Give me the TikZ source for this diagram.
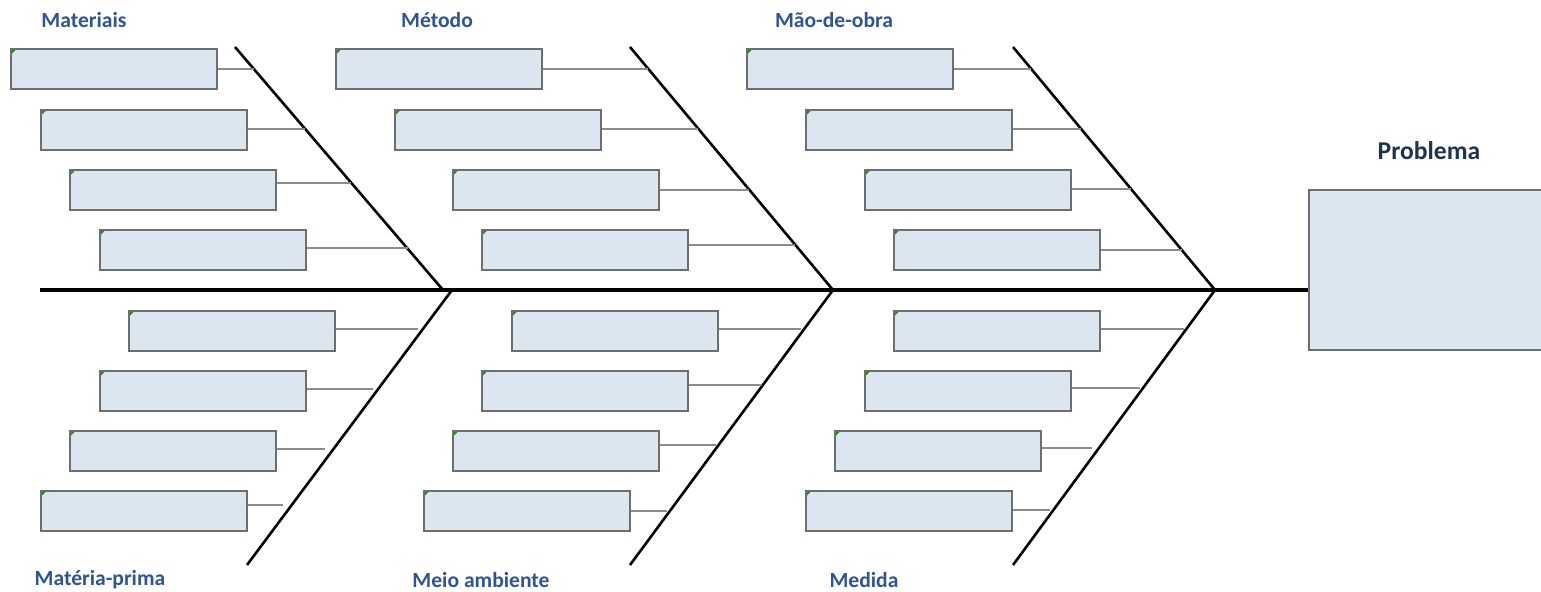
\documentclass[tikz,border=0pt]{standalone}
\usepackage{fontspec}
\setmainfont{Carlito}
\usetikzlibrary{calc}
\definecolor{boxfill}{HTML}{DCE6F1}
\definecolor{boxline}{HTML}{6E6E6E}
\definecolor{connline}{HTML}{8C8C8C}
\definecolor{catblue}{HTML}{2F5597}
\definecolor{probnavy}{HTML}{1F3350}
\definecolor{tick}{HTML}{2E8B1E}
\tikzset{
  cbox/.style={draw=boxline, line width=0.8pt, fill=boxfill, anchor=north west,
    minimum width=103pt, minimum height=20pt, inner sep=0pt,
    path picture={\fill[tick] (path picture bounding box.north west) -- ++(3pt,0) -- ++(-3pt,-3pt) -- cycle;}},
  conn/.style={draw=connline, line width=0.8pt},
  bone/.style={draw=black, line width=1.3pt},
  spine/.style={draw=black, line width=1.8pt},
  cat/.style={font=\bfseries\fontsize{10.8pt}{12pt}\selectfont, text=catblue},
  prob/.style={font=\bfseries\fontsize{12.8pt}{14pt}\selectfont, text=probnavy}
}
\begin{document}
\begin{tikzpicture}[x=0.5pt,y=-0.5pt]
\useasboundingbox (0,0) rectangle (1541,592);
\clip (0,0) rectangle (1541,592);
% problem box
\node[draw=boxline, line width=0.8pt, fill=boxfill, anchor=north west, minimum width=125pt, minimum height=80pt, inner sep=0pt] (prob) at (1308,189) {};
\node[prob] (probt) at (1429,151) {Problema};
% spine
\coordinate (tail) at (40,290);
\draw[spine] (tail) -- (prob.west |- tail);
% diagonals
\coordinate (dA1) at (235,47);  \coordinate (dA2) at (443,290);
\coordinate (dB1) at (630,47);  \coordinate (dB2) at (833,290);
\coordinate (dC1) at (1013,47); \coordinate (dC2) at (1215,290);
\coordinate (lA1) at (452,290); \coordinate (lA2) at (247,565);
\coordinate (lB1) at (833,290); \coordinate (lB2) at (630,565);
\coordinate (lC1) at (1215,290); \coordinate (lC2) at (1013,565);
\draw[bone] (dA1) -- (dA2);
\draw[bone] (dB1) -- (dB2);
\draw[bone] (dC1) -- (dC2);
\draw[bone] (lA1) -- (lA2);
\draw[bone] (lB1) -- (lB2);
\draw[bone] (lC1) -- (lC2);
% category labels
\node[cat] (tMat) at (84,20) {Materiais};
\node[cat] (tMet) at (437,20) {Método};
\node[cat] (tMao) at (834,20) {Mão-de-obra};
\node[cat] (tPri) at (100,580) {Matéria-prima};
\node[cat] (tAmb) at (481,580) {Meio ambiente};
\node[cat] (tMed) at (864,580) {Medida};
% upper boxes
\node[cbox] (mA1) at (10,48) {};
\node[cbox] (mA2) at (40,109) {};
\node[cbox] (mA3) at (69,169) {};
\node[cbox] (mA4) at (99,229) {};
\node[cbox] (mB1) at (335,48) {};
\node[cbox] (mB2) at (394,109) {};
\node[cbox] (mB3) at (452,169) {};
\node[cbox] (mB4) at (481,229) {};
\node[cbox] (mC1) at (746,48) {};
\node[cbox] (mC2) at (805,109) {};
\node[cbox] (mC3) at (864,169) {};
\node[cbox] (mC4) at (893,229) {};
% lower boxes
\node[cbox] (pA1) at (128,310) {};
\node[cbox] (pA2) at (99,370) {};
\node[cbox] (pA3) at (69,430) {};
\node[cbox] (pA4) at (40,490) {};
\node[cbox] (pB1) at (511,310) {};
\node[cbox] (pB2) at (481,370) {};
\node[cbox] (pB3) at (452,430) {};
\node[cbox] (pB4) at (423,490) {};
\node[cbox] (pC1) at (893,310) {};
\node[cbox] (pC2) at (864,370) {};
\node[cbox] (pC3) at (834,430) {};
\node[cbox] (pC4) at (805,490) {};
% connector ends
\coordinate (eA1) at (254,69);  \coordinate (eA2) at (305,129);
\coordinate (eA3) at (351,183); \coordinate (eA4) at (408,248);
\coordinate (eB1) at (648,69);  \coordinate (eB2) at (698,129);
\coordinate (eB3) at (749,190); \coordinate (eB4) at (795,245);
\coordinate (eC1) at (1031,69); \coordinate (eC2) at (1081,129);
\coordinate (eC3) at (1131,189); \coordinate (eC4) at (1182,250);
\coordinate (fA1) at (418,329); \coordinate (fA2) at (373,389);
\coordinate (fA3) at (325,449); \coordinate (fA4) at (283,505);
\coordinate (fB1) at (801,329); \coordinate (fB2) at (762,385);
\coordinate (fB3) at (716,445); \coordinate (fB4) at (667,511);
\coordinate (fC1) at (1184,329); \coordinate (fC2) at (1140,388);
\coordinate (fC3) at (1092,448); \coordinate (fC4) at (1050,510);
\foreach \g in {A,B,C}{
  \foreach \i in {1,2,3,4}{
    \draw[conn] (m\g\i.east |- e\g\i) -- (e\g\i);
    \draw[conn] (p\g\i.east |- f\g\i) -- (f\g\i);
  }
}
\end{tikzpicture}
\end{document}
